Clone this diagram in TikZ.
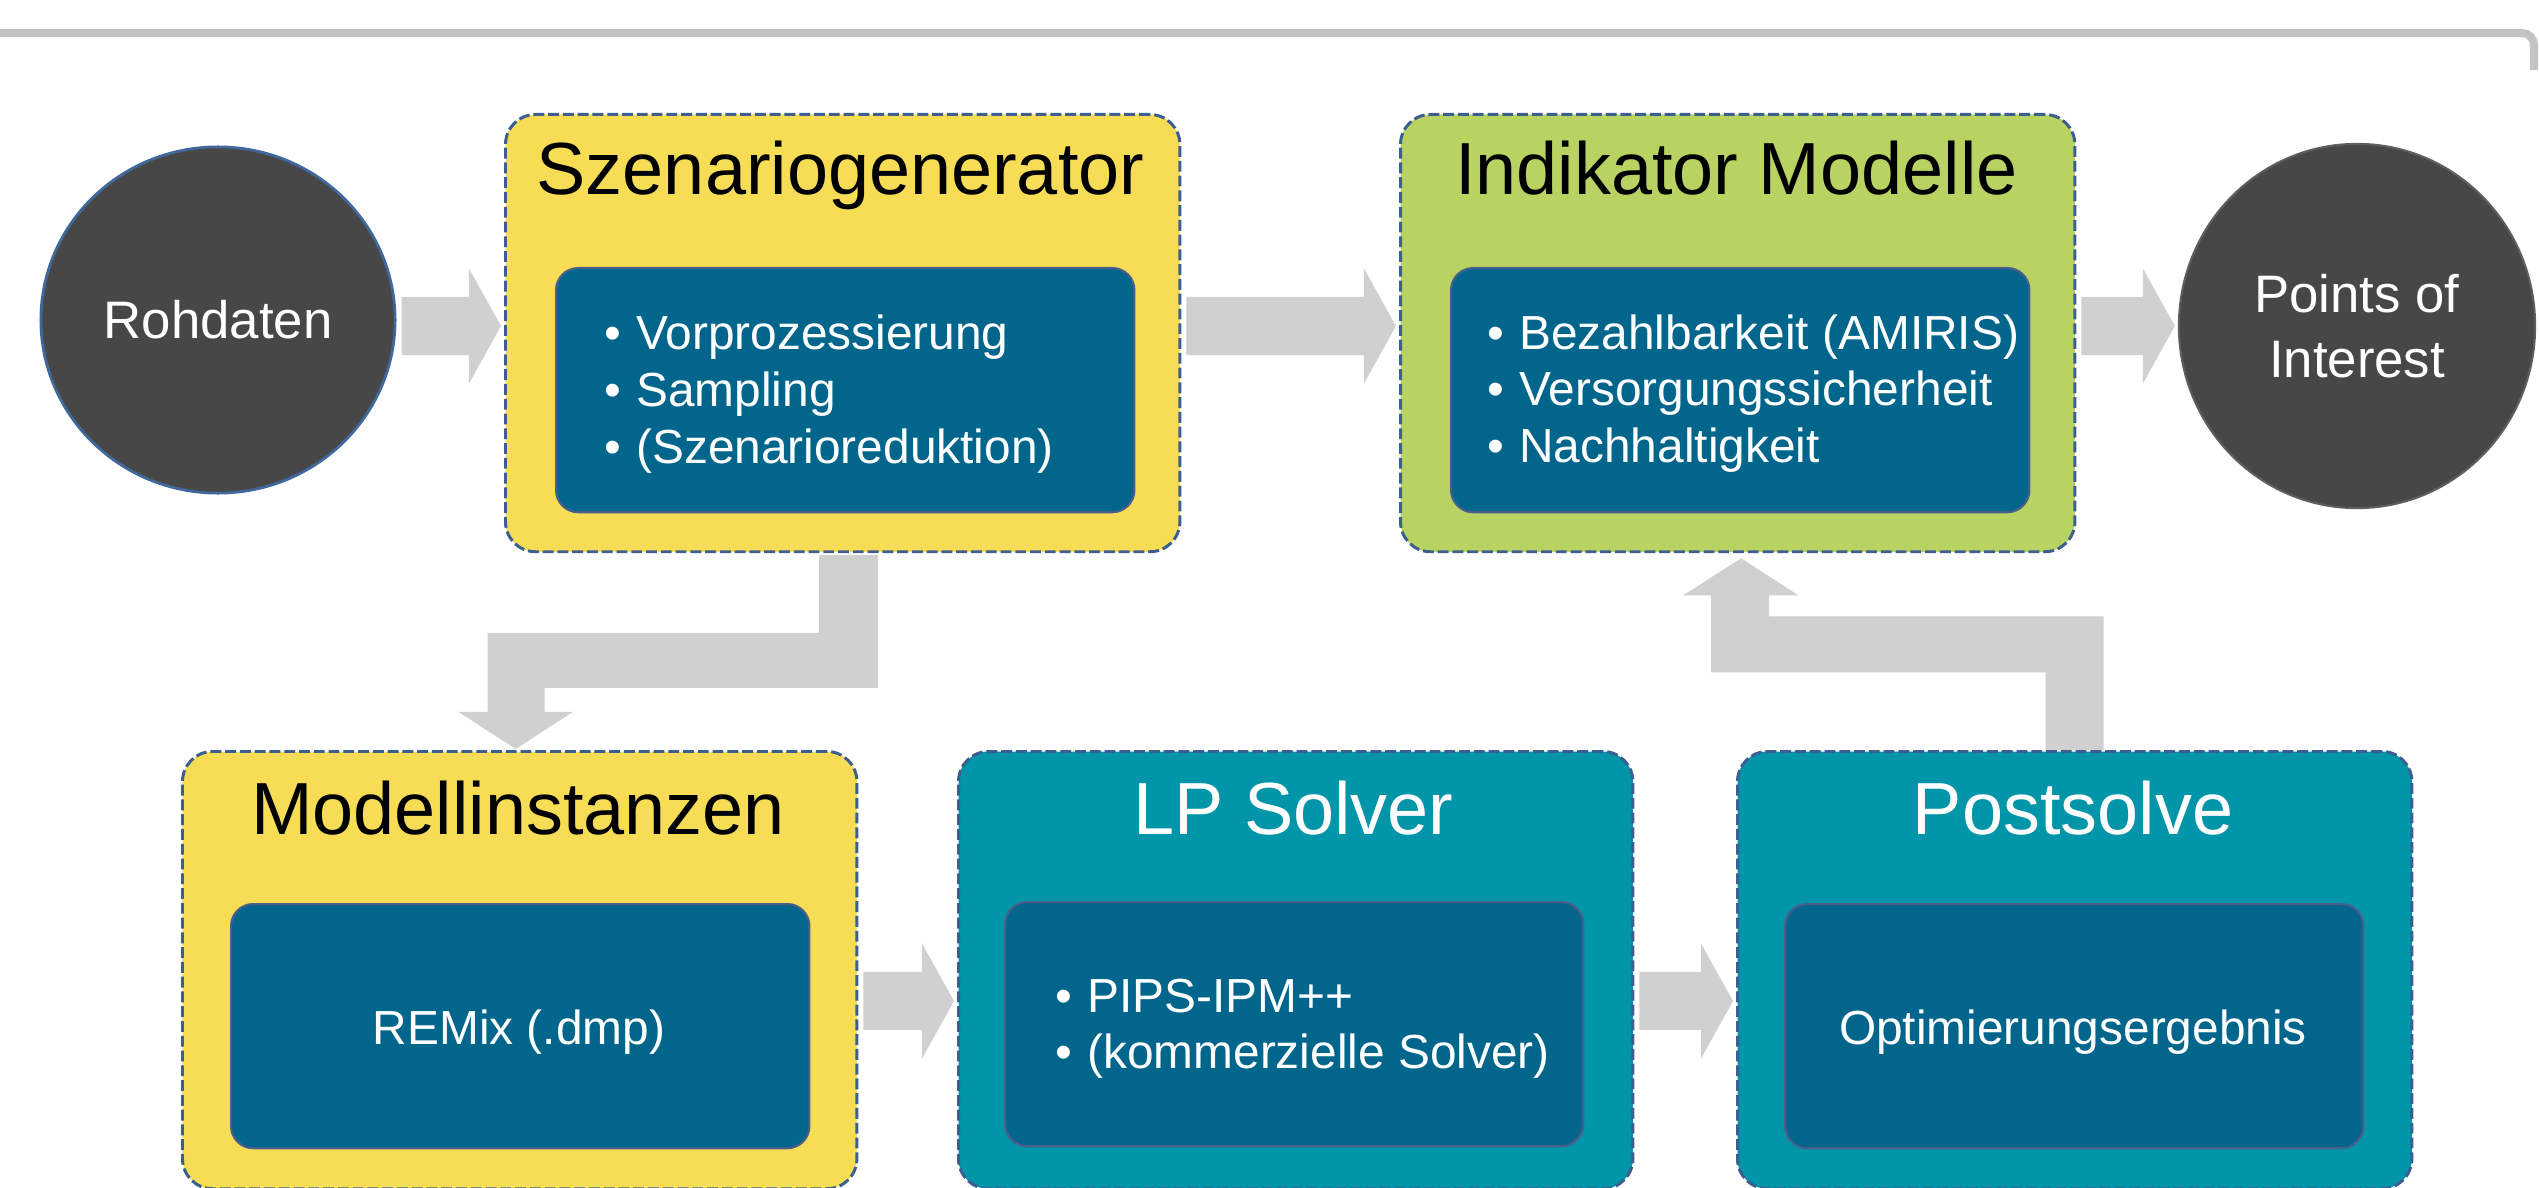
\documentclass[tikz,border=0pt]{standalone}
\usepackage{fontspec}
\setmainfont{Liberation Sans}
\usetikzlibrary{shapes.geometric,calc}
\definecolor{cyel}{HTML}{F7DD55}
\definecolor{cgrn}{HTML}{B8D362}
\definecolor{cteal}{HTML}{0095A8}
\definecolor{cblue}{HTML}{02668C}
\definecolor{cdark}{HTML}{474747}
\definecolor{carrow}{HTML}{D0D0D0}
\definecolor{cline}{HTML}{C3C3C3}
\definecolor{cdash}{HTML}{3D5F8F}
\definecolor{cinner}{HTML}{4A5E8C}
\definecolor{ccircb}{HTML}{41689B}
\definecolor{ccircg}{HTML}{5E5E5E}
\newcommand\pxu{0.28453pt}
\newcommand\itembul{\makebox[9pt][l]{\textbullet}}
\pgfdeclarelayer{background}
\pgfsetlayers{background,main}
\tikzset{
 outerbox/.style={rectangle, draw=cdash, line width=0.85pt, dash pattern=on 3.1pt off 1.1pt, rounded corners=0.3cm, minimum width=6.74cm, minimum height=4.37cm, inner sep=0, anchor=north west},
 innerbox/.style={rectangle, fill=cblue, draw=cinner, line width=0.6pt, rounded corners=0.22cm, minimum width=5.78cm, minimum height=2.44cm, inner sep=0, anchor=north west},
 titletext/.style={font=\fontsize{21}{25}\selectfont, inner sep=0, anchor=base},
 bodytext/.style={font=\fontsize{13.6}{16.2}\selectfont, text=white, inner sep=0},
 circ/.style={ellipse, fill=cdark, text=white, inner sep=0, font=\fontsize{15}{18.5}\selectfont, align=center},
 arrowfill/.style={fill=carrow},
 topline/.style={draw=cline, line width=2.3pt, rounded corners=0.12cm},
}
% horizontal block arrow: source node, target node, y (px)
\newcommand\harr[3]{%
 \fill[arrowfill] let \p1=(#1.east), \p2=(#2.west), \p3=(0,#3) in
 (\x1+5*\pxu,\y3+29*\pxu) -- (\x2-35*\pxu,\y3+29*\pxu) -- (\x2-35*\pxu,\y3+57.5*\pxu)
 -- (\x2-3*\pxu,\y3) -- (\x2-35*\pxu,\y3-57.5*\pxu) -- (\x2-35*\pxu,\y3-29*\pxu)
 -- (\x1+5*\pxu,\y3-29*\pxu) -- cycle;}
\begin{document}
\begin{tikzpicture}[x=0.01cm,y=-0.01cm]
\useasboundingbox (0,0) rectangle (2539,1188);

% circles
\node[circ, draw=ccircb, line width=0.8pt, minimum width=3.54cm, minimum height=3.46cm] (rawc) at (218,320) {Rohdaten};
\node[circ, draw=ccircg, line width=0.6pt, minimum width=3.56cm, minimum height=3.64cm] (poi) at (2357,326) {Points of\\Interest};

% outer boxes
\node[outerbox, fill=cyel] (szen) at (504,113) {};
\node[outerbox, fill=cgrn] (indik) at (1399,113) {};
\node[outerbox, fill=cyel] (modell) at (181,750) {};
\node[outerbox, fill=cteal] (lp) at (957,750) {};
\node[outerbox, fill=cteal] (post) at (1736,750) {};

% inner boxes
\node[innerbox] (szenin) at (555,267) {};
\node[innerbox] (indikin) at (1450,267) {};
\node[innerbox] (modellin) at (230,903) {};
\node[innerbox] (lpin) at (1004,901) {};
\node[innerbox] (postin) at (1784,903) {};

% titles
\node[titletext, text=black] (szent) at (840.5,195) {Szenariogenerator};
\node[titletext, text=black] (indikt) at (1736.5,195) {Indikator Modelle};
\node[titletext, text=black] (modellt) at (518,834) {Modellinstanzen};
\node[titletext, text=white] (lpt) at (1293.5,834) {LP Solver};
\node[titletext, text=white] (postt) at (2073,834) {Postsolve};

% contents
\node[bodytext, anchor=base west] (szenl) at (604,350) {\begin{tabular}[t]{@{}l@{}}\itembul Vorprozessierung\\ \itembul Sampling\\ \itembul (Szenarioreduktion)\end{tabular}};
\node[bodytext, anchor=base west] (indikl) at (1487,349) {\begin{tabular}[t]{@{}l@{}}\itembul Bezahlbarkeit (AMIRIS)\\ \itembul Versorgungssicherheit\\ \itembul Nachhaltigkeit\end{tabular}};
\node[bodytext, anchor=base west] (lpl) at (1055,1012) {\begin{tabular}[t]{@{}l@{}}\itembul PIPS-IPM++\\ \itembul (kommerzielle Solver)\end{tabular}};
\node[bodytext, anchor=base] (modelll) at (519,1044) {REMix (.dmp)};
\node[bodytext, anchor=base] (postl) at (2073,1044) {Optimierungsergebnis};

\begin{pgfonlayer}{background}
% top rule
\draw[topline] (-20,33) -- (2534,33) -- (2534,70);
% straight block arrows
\harr{rawc}{szen}{326}
\harr{szen}{indik}{326}
\harr{indik}{poi}{326}
\harr{modell}{lp}{1001}
\harr{lp}{post}{1001}
% elbow arrow Szenariogenerator -> Modellinstanzen
\fill[arrowfill] let \p1=(szen.south), \p2=(modell.north) in
 (\x1-23.5*\pxu,\y1-2*\pxu) -- (\x1+35.5*\pxu,\y1-2*\pxu) -- (\x1+35.5*\pxu,\y2+62*\pxu)
 -- (\x2+25*\pxu,\y2+62*\pxu) -- (\x2+25*\pxu,\y2+38*\pxu) -- (\x2+53*\pxu,\y2+38*\pxu)
 -- (\x2-4*\pxu,\y2+1*\pxu) -- (\x2-61*\pxu,\y2+38*\pxu) -- (\x2-32*\pxu,\y2+38*\pxu)
 -- (\x2-32*\pxu,\y2+117*\pxu) -- (\x1-23.5*\pxu,\y2+117*\pxu) -- cycle;
% elbow arrow Postsolve -> Indikator Modelle
\fill[arrowfill] let \p1=(post.north), \p2=(indik.south) in
 (\x1-29*\pxu,\y1) -- (\x1+29*\pxu,\y1) -- (\x1+29*\pxu,\y2-63*\pxu)
 -- (\x2+31.5*\pxu,\y2-63*\pxu) -- (\x2+31.5*\pxu,\y2-42*\pxu) -- (\x2+60.5*\pxu,\y2-42*\pxu)
 -- (\x2+3.5*\pxu,\y2-5*\pxu) -- (\x2-54.5*\pxu,\y2-42*\pxu) -- (\x2-26.5*\pxu,\y2-42*\pxu)
 -- (\x2-26.5*\pxu,\y2-119*\pxu) -- (\x1-29*\pxu,\y2-119*\pxu) -- cycle;
\end{pgfonlayer}
\end{tikzpicture}
\end{document}
